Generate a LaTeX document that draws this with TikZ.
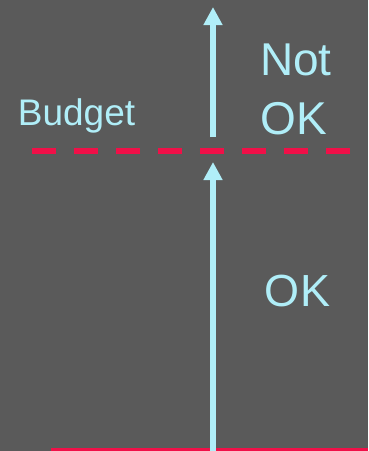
\documentclass[tikz,border=0pt]{standalone}
\usepackage{fontspec}
\setmainfont{Liberation Sans}
\usepackage{xcolor}
\usetikzlibrary{arrows.meta}

\definecolor{slidebg}{RGB}{90,90,90}
\definecolor{paleblue}{RGB}{176,238,248}
\definecolor{budgetred}{RGB}{240,16,72}

\begin{document}
\begin{tikzpicture}[
    x=1pt, y=-1pt,
    lbl/.style={text=paleblue, inner sep=0pt, anchor=base},
    uparrow/.style={draw=paleblue, line width=6pt, -{Triangle[width=18pt,length=18pt]}},
    limit/.style={draw=budgetred, line width=6pt, dash pattern=on 24pt off 18pt},
]
    % Background
    \fill[slidebg] (0,0) rectangle (368,451);
    \useasboundingbox (0,0) rectangle (368,451);

    % Points
    \coordinate (limitL) at (32,151);
    \coordinate (limitR) at (350,151);
    \coordinate (baseL) at (51,449.5);
    \coordinate (baseR) at (368,449.5);
    \coordinate (lowfoot) at (213,451);
    \coordinate (lowtip) at (213,162);
    \coordinate (upfoot) at (213,137);
    \coordinate (uptip) at (213,7);

    % Lines
    \draw[budgetred, line width=3.5pt] (baseL) -- (baseR);
    \draw[limit] (limitL) -- (limitR);

    % Arrows
    \draw[uparrow] (lowfoot) -- (lowtip);
    \draw[uparrow] (upfoot) -- (uptip);

    % Labels
    \node[lbl, font=\fontsize{37}{44}\selectfont] (budget) at (76.5,125) {Budget};
    \node[lbl, font=\fontsize{46}{55}\selectfont] (notlbl) at (296,75) {Not};
    \node[lbl, font=\fontsize{46}{55}\selectfont] (notok) at (294,134) {OK};
    \node[lbl, font=\fontsize{45}{54}\selectfont] (ok) at (297.5,306) {OK};
\end{tikzpicture}
\end{document}
